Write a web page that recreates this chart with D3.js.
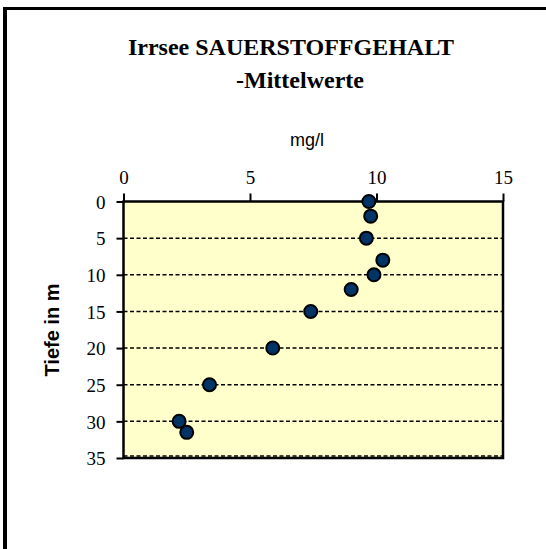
<!DOCTYPE html>
<html>
<head>
<meta charset="utf-8">
<script src="https://cdn.jsdelivr.net/npm/d3@7"></script>
<style>
  body { margin: 0; background: #fff; }
</style>
</head>
<body>
<div id="chart"></div>
<script>
// mean oxygen values (mg/l) by depth (m)
const depths = [0, 2, 5, 8, 10, 12, 15, 20, 25, 30, 31.5];
const oxygen = [9.7, 9.77, 9.6, 10.25, 9.9, 9.0, 7.4, 5.9, 3.4, 2.2, 2.5];
const xTicks = [0, 5, 10, 15];
const yTicks = [0, 5, 10, 15, 20, 25, 30, 35];

const data = depths.map((d, i) => ({depth: d, value: oxygen[i]}));

const W = 546, H = 549;
const svg = d3.select('#chart')
    .append('svg')
    .attr('width', W)
    .attr('height', H);

// outer frame (left and top visible)
svg.append('line')
    .attr('x1', 5).attr('x2', 5).attr('y1', 7).attr('y2', H)
    .attr('stroke', '#000').attr('stroke-width', 4);
svg.append('line')
    .attr('x1', 3).attr('x2', W).attr('y1', 8.5).attr('y2', 8.5)
    .attr('stroke', '#000').attr('stroke-width', 3);

const margin = {left: 123.5, top: 201.5, right: 43, bottom: 91};
const pw = W - margin.left - margin.right,
      ph = H - margin.top - margin.bottom;

const x = d3.scaleLinear().domain([0, 15]).range([0, pw]);
const y = d3.scaleLinear().domain([0, 35]).range([0, ph]);

const g = svg.append('g')
    .attr('transform', `translate(${margin.left},${margin.top})`);

// plot background
g.append('rect')
    .attr('width', pw).attr('height', ph)
    .attr('fill', '#ffffcc');

// horizontal dashed gridlines
g.append('g')
    .selectAll('line')
    .data(yTicks.slice(1))
    .enter()
    .append('line')
        .attr('x1', 0).attr('x2', pw)
        .attr('y1', d => y(d) - (d === 35 ? 2 : 0))
        .attr('y2', d => y(d) - (d === 35 ? 2 : 0))
        .attr('stroke', '#000')
        .attr('stroke-width', 1.5)
        .style('stroke-dasharray', '4,2.5');

// plot border
g.append('rect')
    .attr('width', pw).attr('height', ph)
    .attr('fill', 'none')
    .attr('stroke', '#000')
    .attr('stroke-width', 2.5);

// axes
const xAxis = g.append('g')
    .call(d3.axisTop(x).tickValues(xTicks).tickSize(8).tickPadding(10).tickFormat(d3.format('d')));
const yAxis = g.append('g')
    .call(d3.axisLeft(y).tickValues(yTicks).tickSize(7).tickPadding(11).tickFormat(d3.format('d')));

[xAxis, yAxis].forEach(a => {
    a.select('.domain').remove();
    a.selectAll('line').attr('stroke', '#000').attr('stroke-width', 2);
    a.selectAll('text')
        .attr('font-family', '"Liberation Serif", "Times New Roman", serif')
        .attr('font-size', 19)
        .attr('fill', '#000');
});
xAxis.selectAll('text').attr('dy', '0');
yAxis.selectAll('text').attr('dy', '0.35em');

// points
g.append('g')
    .selectAll('circle')
    .data(data)
    .enter()
    .append('circle')
        .attr('cx', d => x(d.value))
        .attr('cy', d => y(d.depth))
        .attr('r', 6.5)
        .attr('fill', '#003366')
        .attr('stroke', '#000')
        .attr('stroke-width', 2);

// title
const title = svg.append('text')
    .attr('text-anchor', 'middle')
    .attr('font-family', '"Liberation Serif", "Times New Roman", serif')
    .attr('font-weight', 'bold')
    .attr('font-size', 24)
    .attr('fill', '#000');
title.append('tspan').attr('x', 291).attr('y', 55).text('Irrsee SAUERSTOFFGEHALT');
title.append('tspan').attr('x', 300).attr('y', 88).text('-Mittelwerte');

// axis titles
svg.append('text')
    .attr('x', 307).attr('y', 146)
    .attr('text-anchor', 'middle')
    .attr('font-family', '"Liberation Sans", Arial, sans-serif')
    .attr('font-size', 18)
    .attr('fill', '#000')
    .text('mg/l');

svg.append('text')
    .attr('transform', `translate(59,330) rotate(-90)`)
    .attr('text-anchor', 'middle')
    .attr('font-family', '"Liberation Sans", Arial, sans-serif')
    .attr('font-weight', 'bold')
    .attr('font-size', 20)
    .attr('fill', '#000')
    .text('Tiefe in m');
</script>
</body>
</html>
